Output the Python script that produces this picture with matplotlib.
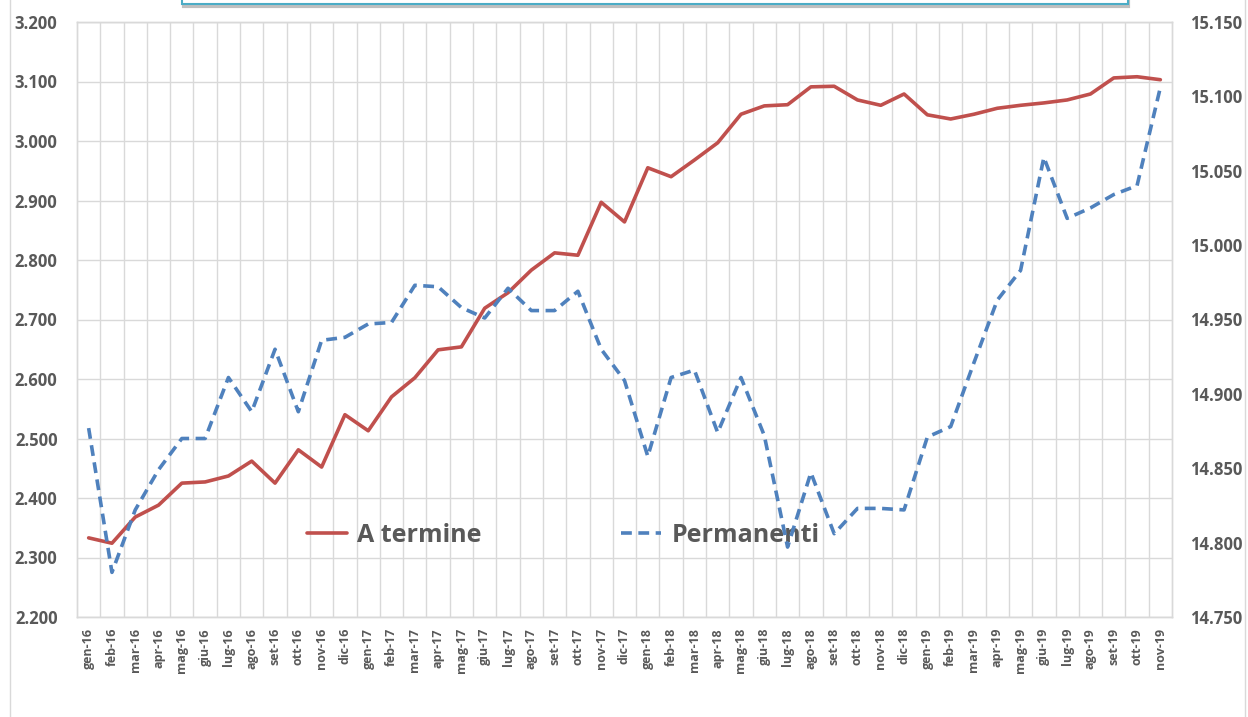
#!/usr/bin/env python3
# occupati a termine vs permanenti, gen-16 .. nov-19 (two y axes)

import matplotlib as mpl
mpl.use('Agg')
import matplotlib.pyplot as plt
from matplotlib.patches import Rectangle

mesi = ["gen", "feb", "mar", "apr", "mag", "giu", "lug", "ago", "set", "ott", "nov", "dic"]
labels = []
for anno in ["16", "17", "18", "19"]:
    for m in mesi:
        labels.append(m + "-" + anno)
labels = labels[:47]   # stops at nov-19

a_termine = [2.333, 2.324, 2.368, 2.388, 2.425, 2.427, 2.437, 2.462, 2.425, 2.481,
             2.452, 2.540, 2.513, 2.570, 2.602, 2.649, 2.654, 2.719, 2.745, 2.783,
             2.812, 2.808, 2.897, 2.864, 2.955, 2.940, 2.968, 2.997, 3.045, 3.059,
             3.061, 3.091, 3.092, 3.069, 3.060, 3.079, 3.044, 3.037, 3.045, 3.055,
             3.060, 3.064, 3.069, 3.079, 3.106, 3.108, 3.103]

permanenti = [14.877, 14.780, 14.822, 14.849, 14.870, 14.870, 14.911, 14.888, 14.930, 14.888,
              14.936, 14.938, 14.947, 14.948, 14.973, 14.972, 14.958, 14.951, 14.971, 14.956,
              14.956, 14.969, 14.930, 14.909, 14.858, 14.911, 14.916, 14.874, 14.911, 14.872,
              14.797, 14.847, 14.806, 14.823, 14.823, 14.822, 14.871, 14.878, 14.921, 14.963,
              14.983, 15.059, 15.018, 15.025, 15.034, 15.040, 15.106]

left_ticks = [2.2, 2.3, 2.4, 2.5, 2.6, 2.7, 2.8, 2.9, 3.0, 3.1, 3.2]
right_ticks = [14.75, 14.80, 14.85, 14.90, 14.95, 15.00, 15.05, 15.10, 15.15]

RED = '#C0504D'
BLUE = '#4F81BD'
GRID = '#D9D9D9'
TXT = '#595959'

plt.rcParams['font.family'] = ['Open Sans', 'DejaVu Sans']
plt.rcParams['font.weight'] = 'bold'

fig = plt.figure(figsize=(12.48, 7.17), dpi=100)
ax = fig.add_axes([77/1248, 1 - 617/717, (1172-77)/1248, (617-22)/717])
ax2 = ax.twinx()

xs = list(range(len(labels)))
l1, = ax.plot(xs, a_termine, color=RED, lw=2.6, solid_capstyle='round', label="A termine")
l2, = ax2.plot(xs, permanenti, color=BLUE, lw=2.6, dashes=(3.0, 1.8), label="Permanenti")

ax.set_xlim(-0.5, len(labels) - 0.5)
ax.set_ylim(2.2, 3.2)
ax2.set_ylim(14.75, 15.15)

ax.set_yticks(left_ticks)
ax.set_yticklabels([("%.3f" % v) for v in left_ticks])
ax2.set_yticks(right_ticks)
ax2.set_yticklabels([("%.3f" % v) for v in right_ticks])

ax.set_xticks(xs)
ax.set_xticklabels(labels, rotation=90, fontsize=9, color=TXT, fontweight='bold')
# vertical grid between categories
ax.set_xticks([x + 0.5 for x in xs[:-1]], minor=True)
ax.grid(which='minor', axis='x', color=GRID, lw=1.0)
ax.grid(which='major', axis='y', color=GRID, lw=1.0)
ax.set_axisbelow(True)

ax.tick_params(axis='both', which='both', length=0)
ax2.tick_params(axis='both', which='both', length=0)
ax.tick_params(axis='y', labelsize=12, labelcolor=TXT, pad=14)
ax2.tick_params(axis='y', labelsize=12, labelcolor=TXT, pad=13)
ax.tick_params(axis='x', pad=8)
for t in ax.get_yticklabels() + ax2.get_yticklabels():
    t.set_fontweight('bold')

for a in (ax, ax2):
    for s in a.spines.values():
        s.set_color(GRID)
        s.set_linewidth(1.0)
ax2.set_zorder(ax.get_zorder() + 1)
ax.patch.set_visible(False)

leg = ax.legend([l1, l2], ["A termine", "Permanenti"], loc='center',
                bbox_to_anchor=(563/1248, 1 - 535/717), bbox_transform=fig.transFigure,
                ncol=2, frameon=False, handlelength=1.6, columnspacing=5.6,
                handletextpad=0.4, prop={'size': 18, 'weight': 'bold'})
for t in leg.get_texts():
    t.set_color(TXT)
leg.set_zorder(10)

# chart frame and the cut title box at the top
fig.patches.append(Rectangle((10/1248, -0.01), (1245-10)/1248, 1.05, transform=fig.transFigure,
                             fill=False, edgecolor=GRID, lw=1.0))
fig.patches.append(Rectangle((184/1248, 1 - 6/717), (1128-184)/1248, 0.05, transform=fig.transFigure,
                             facecolor='white', edgecolor='#BFBFBF', lw=3.0))
fig.patches.append(Rectangle((182/1248, 1 - 4/717), (1128-182)/1248, 0.05, transform=fig.transFigure,
                             facecolor='white', edgecolor='#4BACC6', lw=1.5))

fig.savefig("out.png", dpi=100)
